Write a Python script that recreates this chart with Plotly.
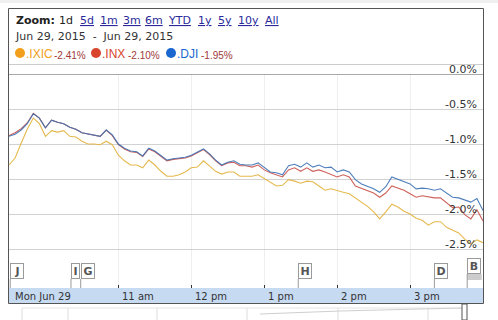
import plotly.graph_objects as go
import pandas as pd

# ---------------- data ----------------
times = pd.date_range("2015-06-29 09:30", "2015-06-29 16:00", freq="5min")

ixic = [-1.30, -1.20, -0.99, -0.79, -0.63, -0.71, -0.89, -0.81, -0.83, -0.81,
        -0.89, -0.90, -0.96, -1.00, -1.00, -1.01, -0.96, -1.01, -1.16, -1.24,
        -1.30, -1.30, -1.34, -1.23, -1.30, -1.39, -1.46, -1.46, -1.44, -1.40,
        -1.34, -1.33, -1.24, -1.31, -1.39, -1.43, -1.40, -1.40, -1.46, -1.46,
        -1.46, -1.44, -1.49, -1.54, -1.60, -1.59, -1.51, -1.53, -1.56, -1.53,
        -1.54, -1.60, -1.66, -1.64, -1.67, -1.69, -1.71, -1.77, -1.84, -1.89,
        -1.97, -2.07, -1.97, -1.86, -1.90, -1.96, -2.00, -2.06, -2.09, -2.16,
        -2.11, -2.11, -2.19, -2.23, -2.27, -2.36, -2.43, -2.37, -2.41]

inx = [-0.88, -0.84, -0.78, -0.70, -0.56, -0.63, -0.77, -0.66, -0.69, -0.71,
       -0.76, -0.79, -0.84, -0.86, -0.87, -0.89, -0.80, -0.88, -1.01, -1.07,
       -1.11, -1.12, -1.18, -1.07, -1.11, -1.17, -1.24, -1.22, -1.21, -1.20,
       -1.17, -1.12, -1.08, -1.15, -1.24, -1.31, -1.27, -1.26, -1.31, -1.31,
       -1.33, -1.30, -1.37, -1.41, -1.44, -1.47, -1.37, -1.34, -1.39, -1.34,
       -1.39, -1.37, -1.40, -1.43, -1.47, -1.44, -1.47, -1.60, -1.63, -1.66,
       -1.70, -1.76, -1.70, -1.60, -1.63, -1.66, -1.71, -1.76, -1.74, -1.76,
       -1.77, -1.77, -1.84, -1.91, -1.90, -2.01, -2.07, -1.94, -2.10]

dji = [-0.89, -0.86, -0.80, -0.71, -0.57, -0.63, -0.77, -0.66, -0.69, -0.71,
       -0.76, -0.79, -0.84, -0.86, -0.87, -0.89, -0.80, -0.87, -1.00, -1.06,
       -1.10, -1.11, -1.17, -1.06, -1.10, -1.16, -1.23, -1.21, -1.20, -1.19,
       -1.16, -1.11, -1.07, -1.14, -1.23, -1.30, -1.26, -1.24, -1.29, -1.30,
       -1.30, -1.27, -1.34, -1.40, -1.41, -1.44, -1.31, -1.29, -1.33, -1.27,
       -1.33, -1.30, -1.34, -1.33, -1.40, -1.37, -1.40, -1.51, -1.57, -1.60,
       -1.64, -1.69, -1.61, -1.47, -1.50, -1.53, -1.57, -1.64, -1.63, -1.64,
       -1.66, -1.64, -1.70, -1.76, -1.77, -1.80, -1.83, -1.78, -1.95]

series_names = [".IXIC", ".INX", ".DJI"]
series_change = ["-2.41%", "-2.10%", "-1.95%"]

y_ticks = [0.0, -0.5, -1.0, -1.5, -2.0, -2.5]
y_tick_labels = ["0.0%", "-0.5%", "-1.0%", "-1.5%", "-2.0%", "-2.5%"]

x_ticks = ["2015-06-29 09:30", "2015-06-29 11:00", "2015-06-29 12:00",
           "2015-06-29 13:00", "2015-06-29 14:00", "2015-06-29 15:00"]
x_tick_labels = ["Mon Jun 29", "11 am", "12 pm", "1 pm", "2 pm", "3 pm"]

flag_labels = ["J", "I", "G", "H", "D", "B"]
flag_times = ["2015-06-29 09:31", "2015-06-29 10:21", "2015-06-29 10:29",
              "2015-06-29 13:28", "2015-06-29 15:20", "2015-06-29 15:47"]

zoom_labels = ["1d", "5d", "1m", "3m", "6m", "YTD", "1y", "5y", "10y", "All"]

# ---------------- styling helpers ----------------
W, H = 498, 320
ML, MR, MT, MB = 9, 15, 74, 32
PW, PH = W - ML - MR, H - MT - MB


def xp(px):
    return (px - ML) / PW


def yp(py):
    return (H - MB - py) / PH


ORANGE, RED, BLUE = "#f2a01c", "#d8442c", "#1a68cf"
LINE_COLORS = ["#e3b23c", "#c9524a", "#3d72b4"]
FONT = "DejaVu Sans, Verdana, sans-serif"
ARIAL = "Liberation Sans, Arial, sans-serif"

fig = go.Figure()
for vals, name, col in zip([ixic, inx, dji], series_names, LINE_COLORS):
    fig.add_trace(go.Scatter(x=times, y=vals, mode="lines", name=name,
                             line=dict(color=col, width=1.1), opacity=0.9,
                             hoverinfo="skip"))

shapes = []
annotations = []

# blue axis band
shapes.append(dict(type="rect", xref="paper", yref="paper", x0=0, x1=1,
                   y0=yp(303), y1=0, fillcolor="#c6daf2", line=dict(width=0),
                   layer="below"))
# 0% dark line
shapes.append(dict(type="line", xref="paper", yref="y", x0=0, x1=1, y0=0, y1=0,
                   line=dict(color="#555555", width=1)))
# separator under legend
shapes.append(dict(type="line", xref="paper", yref="paper", x0=xp(8), x1=xp(483.5),
                   y0=yp(64.5), y1=yp(64.5), line=dict(color="#cccccc", width=1)))
# outer box
shapes.append(dict(type="rect", xref="paper", yref="paper", x0=xp(8.5), x1=xp(483.5),
                   y0=yp(303.5), y1=yp(8.5), line=dict(color="#555555", width=1)))
# top strip above box
shapes.append(dict(type="rect", xref="paper", yref="paper", x0=xp(0), x1=xp(498),
                   y0=yp(3), y1=yp(0), fillcolor="#efefef", line=dict(width=0)))

# navigator remnants below the box
for nx in [22, 68, 157, 247, 338, 428]:
    shapes.append(dict(type="line", xref="paper", yref="paper", x0=xp(nx), x1=xp(nx),
                       y0=yp(320), y1=yp(308), line=dict(color="#dddddd", width=1)))
shapes.append(dict(type="line", xref="paper", yref="paper", x0=xp(22), x1=xp(465),
                   y0=yp(308), y1=yp(308), line=dict(color="#e4e4e4", width=1)))
shapes.append(dict(type="path", xref="paper", yref="paper",
                   path=f"M {xp(260)} {yp(314)} L {xp(340)} {yp(311)} L {xp(420)} {yp(309)} L {xp(465)} {yp(308)}",
                   line=dict(color="#cfcfcf", width=1)))
shapes.append(dict(type="rect", xref="paper", yref="paper", x0=xp(462), x1=xp(467),
                   y0=yp(320), y1=yp(304), fillcolor="white",
                   line=dict(color="#555555", width=1)))

# y labels
for v, t in zip(y_ticks, y_tick_labels):
    annotations.append(dict(text=t, xref="paper", yref="y", x=xp(479), y=v,
                            xanchor="right", yanchor="middle", yshift=5, showarrow=False,
                            font=dict(family=FONT, size=11, color="#333333")))

# x labels
for v, t in zip(x_ticks, x_tick_labels):
    annotations.append(dict(text=t, xref="x", yref="paper", x=v, y=yp(296),
                            xanchor="left", yanchor="middle", xshift=4 if t.startswith("Mon") else 2,
                            showarrow=False,
                            font=dict(family=FONT, size=10, color="#333333")))

# flags
for lab, ft in zip(flag_labels, flag_times):
    top = 258 if lab == "B" else 263
    bottom = top + 16
    width = 5 if lab == "I" else 10
    annotations.append(dict(text=f"<b>{lab}</b>", xref="x", yref="paper", x=ft,
                            y=yp(bottom), xanchor="left", yanchor="bottom",
                            showarrow=False, width=width, height=12, borderpad=1,
                            bordercolor="#9a9a9a", borderwidth=1, bgcolor="white",
                            font=dict(family=FONT, size=11, color="#555555")))
    shapes.append(dict(type="line", xref="x", yref="paper", x0=ft, x1=ft,
                       y0=0, y1=yp(bottom), line=dict(color="#9a9a9a", width=1)))
# stacked B lines
for sy in [275, 277, 279]:
    shapes.append(dict(type="line", xref="x", yref="paper", x0=flag_times[-1],
                       x1="2015-06-29 15:59", y0=yp(sy), y1=yp(sy),
                       line=dict(color="#9a9a9a", width=1)))

# zoom row
annotations.append(dict(text="<b>Zoom:</b>", xref="paper", yref="paper", x=xp(14),
                        y=yp(21), xanchor="left", yanchor="middle", showarrow=False,
                        font=dict(family=FONT, size=11, color="#222222")))
zoom_x = [57, 78, 98, 121, 143, 166, 196, 216, 236, 263]
for zx, zl in zip(zoom_x, zoom_labels):
    if zl == "1d":
        txt, col = zl, "#222222"
    else:
        txt, col = f"<u>{zl}</u>", "#2a2a9a"
    annotations.append(dict(text=txt, xref="paper", yref="paper", x=xp(zx), y=yp(21),
                            xanchor="left", yanchor="middle", showarrow=False,
                            font=dict(family=FONT, size=11, color=col)))

# date range row
annotations.append(dict(text="Jun 29, 2015  -  Jun 29, 2015", xref="paper", yref="paper",
                        x=xp(13), y=yp(37), xanchor="left", yanchor="middle",
                        showarrow=False, font=dict(family=FONT, size=11, color="#333333")))

# legend row
dot_x = [20, 96, 171]
name_x = [24, 100, 175]
chg_x = [52, 126, 199]
for dx, nx, cx, nm, ch, col in zip(dot_x, name_x, chg_x, series_names, series_change,
                                   [ORANGE, RED, BLUE]):
    shapes.append(dict(type="circle", xref="paper", yref="paper", x0=xp(dx - 5),
                       x1=xp(dx + 5), y0=yp(58), y1=yp(48), fillcolor=col,
                       line=dict(width=0)))
    annotations.append(dict(text=nm, xref="paper", yref="paper", x=xp(nx), y=yp(54),
                            xanchor="left", yanchor="middle", showarrow=False,
                            font=dict(family=ARIAL, size=12, color=col)))
    annotations.append(dict(text=ch, xref="paper", yref="paper", x=xp(cx), y=yp(55),
                            xanchor="left", yanchor="middle", showarrow=False,
                            font=dict(family=ARIAL, size=10, color="#a03a3a")))

fig.update_layout(
    width=W, height=H,
    margin=dict(l=ML, r=MR, t=MT, b=MB, pad=0),
    paper_bgcolor="white", plot_bgcolor="white",
    showlegend=False,
    shapes=shapes, annotations=annotations,
    xaxis=dict(range=["2015-06-29 09:30", "2015-06-29 16:00"], tickvals=x_ticks,
               showticklabels=False, ticks="inside", ticklen=3, tickcolor="#333333",
               showgrid=True, gridcolor="#eeeeee", gridwidth=1, zeroline=False,
               showline=False, fixedrange=True),
    yaxis=dict(range=[-3.057, 0], tickvals=y_ticks[1:], showticklabels=False,
               showgrid=True, gridcolor="#d2d2d2", gridwidth=1, zeroline=False,
               showline=False, fixedrange=True),
)

fig.write_html("out.html", config={"displayModeBar": False})
